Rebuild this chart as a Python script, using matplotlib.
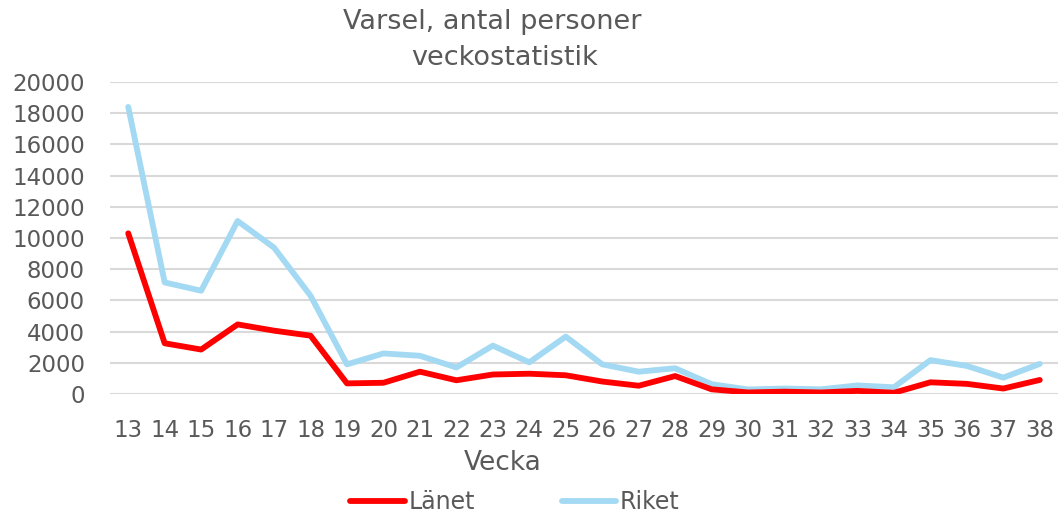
import matplotlib.pyplot as plt
from matplotlib.lines import Line2D

weeks = list(range(13, 39))
lanet = [10300, 3250, 2850, 4460, 4060, 3740, 680, 720, 1430, 880, 1250, 1300, 1200,
         800, 530, 1150, 300, 100, 150, 100, 200, 80, 750, 650, 350, 900]
riket = [18400, 7150, 6620, 11090, 9380, 6300, 1900, 2600, 2450, 1700, 3100, 2030, 3680,
         1900, 1430, 1650, 630, 290, 350, 300, 550, 430, 2170, 1800, 1050, 1930]

TEXT = "#595959"
RED = "#ff0000"
BLUE = "#a3d9f2"

fig = plt.figure(figsize=(10.58, 5.14), dpi=100)
ax = fig.add_axes([110 / 1058, 120 / 514, 948 / 1058, 312 / 514])

ax.plot(weeks, lanet, color=RED, lw=4.2, solid_capstyle="round", solid_joinstyle="round", zorder=3)
ax.plot(weeks, riket, color=BLUE, lw=4.2, solid_capstyle="round", solid_joinstyle="round", zorder=2)

ax.set_xlim(12.5, 38.5)
ax.set_ylim(0, 20000)
ax.set_yticks(range(0, 20001, 2000))
ax.set_xticks(weeks)
ax.grid(axis="y", color="#d9d9d9", lw=1.5)
ax.set_axisbelow(True)
for s in ax.spines.values():
    s.set_visible(False)
ax.tick_params(length=0, labelsize=16.5, labelcolor=TEXT)
ax.tick_params(axis="y", pad=18)
ax.tick_params(axis="x", pad=18)

fig.text(492 / 1058, 1 - 22 / 514, "Varsel, antal personer", ha="center", va="center",
         fontsize=19.5, color=TEXT)
fig.text(505 / 1058, 1 - 58 / 514, "veckostatistik", ha="center", va="center",
         fontsize=19.5, color=TEXT)
fig.text(503 / 1058, 1 - 463 / 514, "Vecka", ha="center", va="center", fontsize=19, color=TEXT)

handles = [Line2D([], [], color=RED, lw=4.2, solid_capstyle="round"),
           Line2D([], [], color=BLUE, lw=4.2, solid_capstyle="round")]
fig.legend(handles, ["Länet", "Riket"], loc="center", bbox_to_anchor=(515 / 1058, 1 - 502 / 514),
           ncol=2, frameon=False, fontsize=17, labelcolor=TEXT, handlelength=2.3,
           handletextpad=0.15, columnspacing=3.7)

fig.savefig("out.png", dpi=100)
